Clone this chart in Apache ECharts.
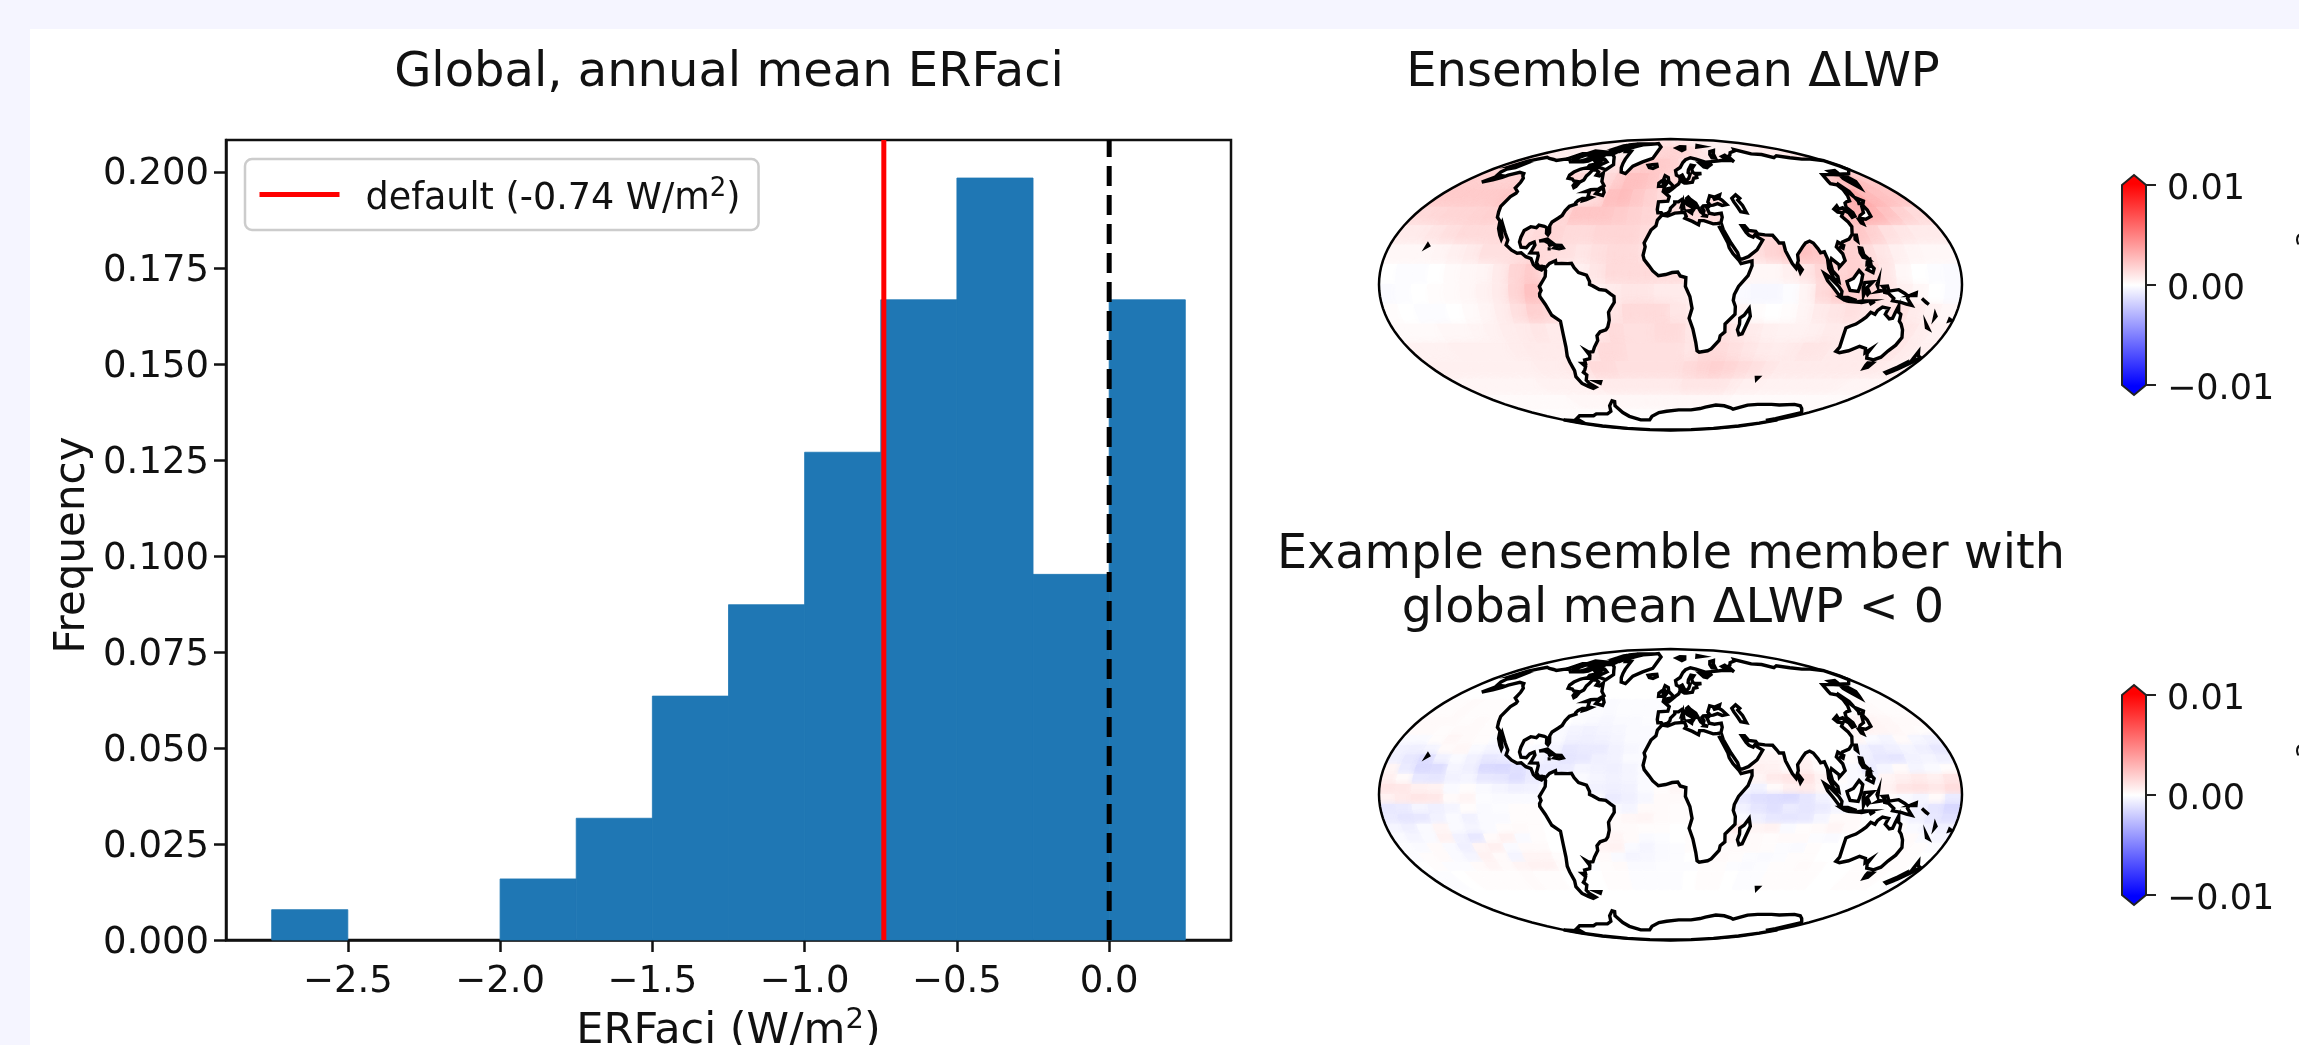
<!DOCTYPE html>
<html><head><meta charset="utf-8">
<script src="https://cdn.jsdelivr.net/npm/echarts@6/dist/echarts.min.js"></script>
<style>
html,body{margin:0;padding:0;width:2299px;height:1045px;overflow:hidden;background:#f5f5ff}
#panel{position:absolute;left:30px;top:29px;width:2269px;height:1016px;background:#fff}
#c{position:absolute;left:0;top:0;width:2299px;height:1045px}
</style></head><body><div id="panel"></div><div id="c"></div>
<script>
// ---------- histogram ----------
const binEdges = [-2.75,-2.5,-2.25,-2,-1.75,-1.5,-1.25,-1,-0.75,-0.5,-0.25,0,0.25];
const binFreq = [0.0079,0,0,0.0159,0.0317,0.0635,0.0873,0.127,0.1667,0.1984,0.0952,0.1667];
const xTicks = [-2.5,-2,-1.5,-1,-0.5,0];
const yTicks = [0,0.025,0.05,0.075,0.1,0.125,0.15,0.175,0.2];
const defaultERF = -0.74;
const cbTicks = [-0.01,0,0.01];
// ---------- coastlines (lon, lat) ----------
const americas = [[-168,65.5],[-166,68.5],[-162,70],[-156.5,71.3],[-150,70.5],[-141,69.7],[-135,69],[-128,70],[-122,69.8],[-115,68],[-108,68],[-100,68],[-96,68.5],[-94,71.5],[-92,69.5],[-88,68.5],[-85,69.5],[-81.5,69],[-82,66.5],[-87,65.5],[-86,64],[-91,63],[-94,61],[-94.5,59],[-92.5,57],[-88,56.5],[-85,55.3],[-82,55],[-82,52.5],[-80,51.3],[-79,52],[-79,54.5],[-77,56],[-78,58.5],[-77.5,60],[-78,62.3],[-74,62.3],[-70,61],[-69.5,59],[-66,58.5],[-64.5,60.3],[-62,57.5],[-60,55],[-56,52.5],[-59,50.3],[-65,50],[-68,49],[-65,49],[-64.5,47.5],[-64,46],[-61,45.5],[-64,44.3],[-66,43.8],[-66,45],[-67.5,45],[-70,43.7],[-70.8,42.5],[-70,41.7],[-74,40.5],[-75.5,38],[-76,35.5],[-78,34],[-81,32],[-81.5,30],[-80,26.5],[-80.5,25.2],[-81.8,26],[-83,29],[-85,29.7],[-89,30.3],[-90,29],[-94,29.5],[-97.3,27.5],[-97.7,24],[-97.5,21.5],[-95.5,18.8],[-92,18.6],[-90.5,20.5],[-88,21.5],[-87,20],[-88,17.5],[-88.8,15.9],[-84,15.8],[-83.3,14.5],[-83.7,11],[-82,9],[-80,9.2],[-77.5,8.6],[-75.5,10.6],[-72,12],[-71.5,10.5],[-68,10.6],[-64,10.5],[-61.8,10.7],[-60,8.5],[-57,6],[-52,4.7],[-50,1.5],[-50,0],[-48,-0.7],[-44,-2.5],[-40,-2.9],[-37,-4.8],[-35,-6],[-35,-9],[-37.5,-12],[-39,-14],[-39,-18],[-40.5,-21.5],[-42,-23],[-46,-24],[-48.5,-26],[-48.7,-28.5],[-52,-32],[-54,-34.5],[-57,-34.8],[-58.4,-34],[-57,-36.5],[-58,-38.3],[-62,-39],[-62.5,-41],[-65,-41],[-63.5,-42.7],[-65.3,-44.5],[-67.5,-46],[-66,-47.5],[-69,-50.5],[-68.3,-52.5],[-65.2,-54.8],[-68,-55.5],[-71,-54.3],[-74.5,-52.5],[-75.5,-48.5],[-73.5,-45],[-73.5,-40],[-73.3,-37],[-71.5,-32],[-70.5,-25],[-70.2,-18.5],[-75,-15.5],[-78,-10],[-81,-6],[-81,-4.5],[-80,-3],[-81,-1],[-79.5,1],[-77.5,4],[-77.5,7],[-78.5,8.5],[-80,7.3],[-83,8.3],[-85.5,10],[-87.5,13],[-91,14],[-94.5,16],[-97,15.8],[-101,17.3],[-105.5,20],[-105.5,22.5],[-109,26],[-112.5,29.5],[-114.7,31.5],[-114,29],[-110,24],[-110,23],[-112,25],[-115,28.5],[-117,32.5],[-120.5,34.5],[-122.5,37.5],[-124.3,40.5],[-124,46],[-122.5,48],[-123,49],[-128,51],[-130,54.5],[-133,57],[-137,58.5],[-140,60],[-146,60.8],[-150,59.7],[-152,59],[-153.5,57.5],[-158,56],[-164,54.6],[-160,58],[-158,58.7],[-162,59],[-165,61],[-166,63],[-161,64],[-161,66]];
const afroEurasia = [[-9.5,38.7],[-9,43],[-2,43.4],[-1,46],[-4.7,48.3],[-1.5,48.8],[1.5,50.5],[4,52],[7,53.5],[8.5,55.5],[8.5,57],[10.5,57.5],[10,55],[12,54],[14,54],[19,54.5],[21,57],[24,57.5],[24,59.3],[29.5,60],[23,60],[21.5,61],[21.5,63],[25,65.3],[22,65.7],[18,62.5],[17,60.7],[18.5,59.5],[16.5,57],[14,55.5],[12.7,56],[11,59],[8,58],[5.5,59],[5,62],[10,64],[14,67.5],[18,69.5],[25,71],[31,70],[41,67.5],[40,66],[35,66.5],[33,66.7],[35,64.5],[38,64],[40,64.7],[44,66],[44,68],[54,68.5],[60,69],[68,69],[67,72],[73,73],[73,68],[75,72],[80,73],[87,75],[100,76.5],[105,77.7],[113,74],[125,73.5],[130,71],[140,72.5],[150,71],[160,70],[170,70],[180,69],[180,65],[178,64.5],[179,62.5],[170,60],[164,59.8],[162,57.5],[162,55],[158,52],[156.7,51],[155.7,55],[156,57],[161,60.5],[163,62],[156,61.5],[155,59.3],[150,59.5],[143,59.3],[138,55],[137,53.7],[141,53],[140.5,50],[138,46.5],[135,43.5],[132,43],[130,42.3],[128,40],[129.5,37],[129,35.2],[126.5,34.5],[126.5,37],[125,38],[125,39.7],[121.5,39],[122,40.8],[118,39],[119,37.3],[122.5,37],[119.5,35],[121.5,32],[122,29.5],[119.5,25.5],[116,23],[111,21.5],[110,20.3],[108,21.5],[106,19],[108.8,15.5],[109.3,12],[105,8.7],[105,10],[101,13],[99.8,11],[100.5,7],[103.5,4],[104,1.4],[101,3],[98.3,8],[98.5,13],[97.5,16.5],[95,16],[94,18],[92,21],[90,22],[87,21],[85,19.5],[80.2,15],[80,12],[78,8.2],[76,10.5],[73,17],[72.8,21],[70,21],[69,22.5],[67,25],[62,25.2],[57.5,25.7],[56.5,27],[52,27.5],[50,30],[48,30],[50,26.5],[51.5,25],[54,24],[56.3,26],[56.5,24.3],[59.8,22.5],[55,17.5],[49,14],[45,12.8],[43.3,12.8],[42.5,16],[39,21],[35.2,28],[34.9,29.5],[34.2,27.8],[33,29],[32.5,30],[33.5,28],[35.5,24],[37,21],[37.5,18.5],[39.5,15.5],[43,12],[44,10.5],[51,11.9],[50.8,9.5],[48,4.5],[42,-1],[39.5,-5],[39,-8],[40.5,-11],[40.7,-15],[35,-20],[35.5,-24],[32.8,-26],[32.5,-28.5],[28,-33],[25.7,-34],[20,-34.8],[18.4,-34],[17,-29.5],[14.5,-22.5],[11.8,-17],[13.5,-12],[12,-6],[9.2,-1],[9.5,3.5],[6,4.3],[4.5,6.3],[1,6],[-3,5],[-7.5,4.4],[-11,6.8],[-13.5,9.5],[-16.5,12.5],[-17.3,14.7],[-16.2,19],[-17,21],[-13,27.7],[-9.8,30],[-9,33],[-6,35.7],[-2,35.2],[3,36.8],[10,37.2],[11,35],[10,34],[15,32.3],[19,30.5],[20,32.7],[23,32.7],[29,31],[32,31.2],[34.3,31.5],[36,34.5],[36,36.8],[31,36.2],[27.5,36.7],[26.5,39.5],[29,41],[31.5,41.2],[35,42],[38,41],[41.5,41.5],[39,44],[37,45],[38.5,47],[35,46],[36,45],[33.5,44.5],[33,46],[30.5,46.5],[28,43],[29,41.3],[26,40.8],[24,40.7],[23,40],[24,38],[23,36.5],[21.5,37.5],[19.5,41],[18.8,42.3],[15,44.5],[13.7,45.7],[12.4,45],[12.5,44],[16,41.8],[18.5,40],[16.8,40.3],[17,39],[16,38],[15.8,40],[12.5,41.5],[10.3,43.5],[8.8,44.4],[6,43],[3.2,43],[3.2,41.9],[0,39.5],[-0.5,38],[-2,36.8],[-5.5,36],[-6.5,37],[-9,37]];
const australia = [[113.5,-22],[114,-26],[115.7,-32],[115,-34.3],[118,-35],[123.5,-34],[129,-31.6],[134,-32.7],[136,-35],[138,-33],[138,-35.5],[140.5,-38],[144,-38.5],[146.5,-39],[150,-37.5],[151,-34],[153,-31],[153.5,-27],[150.8,-23],[148,-20],[146,-18.5],[145.3,-15],[143.5,-14],[142.5,-10.8],[141.5,-14],[141,-17],[139,-17.3],[135.5,-15],[136.5,-12],[132.5,-11.3],[130,-13],[129,-15],[126,-14],[124,-16.5],[122,-18],[119,-20],[116,-21]];
const antarctica = [[-180,-78],[-160,-79],[-150,-77],[-130,-74.5],[-110,-74.5],[-100,-73],[-85,-73],[-75,-71],[-68,-67],[-60,-63.5],[-58,-64],[-62,-67],[-62,-72],[-60,-75],[-50,-78],[-35,-78],[-27,-75],[-15,-72],[-5,-71],[10,-70],[25,-70],[35,-69],[40,-68],[50,-66.5],[60,-67],[70,-68.5],[75,-69.5],[85,-66.5],[95,-66],[110,-66],[120,-66.5],[135,-66],[145,-67],[155,-69],[165,-71],[170,-72],[168,-77],[165,-78.5],[180,-78],[180,-81],[180,-84],[180,-87],[180,-89],[180,-90],[-180,-90],[-180,-89],[-180,-87],[-180,-84],[-180,-81]];
const islands = [
 [[-73,78.2],[-68,76],[-60,76],[-55,70],[-53,67],[-51,64],[-48,61],[-43,60],[-40,65],[-32,68],[-22,70.5],[-20,75],[-18,80],[-30,83.5],[-45,82.5],[-60,82],[-66,80.5]],
 [[-62,66],[-65,62.5],[-72,63.8],[-78,64.5],[-73,68],[-80,70],[-88,71],[-89,73.5],[-80,73.7],[-72,71.5],[-67,69]],
 [[-90,76.5],[-78,76],[-75,79],[-65,81.5],[-62,83],[-75,83],[-90,82],[-88,79]],
 [[-117,70],[-105,68.5],[-101,70],[-105,73],[-115,73.3]],
 [[-125,72],[-118,72],[-118,74.3],[-124,74.2]],
 [[-92,74.6],[-80,74.7],[-80,75.6],[-92,76.7]],
 [[-117,75],[-106,75],[-106,76],[-117,76.5]],
 [[-95,79],[-87,79],[-91,81.5],[-95,81]],
 [[-87,63.5],[-80,63.7],[-83,65.5]],
 [[-100,72],[-93,71.8],[-92,74],[-98,74]],
 [[-59,47.7],[-53,46.7],[-53,48.5],[-56,51.5],[-58,49.5]],
 [[-85,22],[-80,23],[-75,20.5],[-77.5,19.9],[-78.5,21],[-82,22.3]],
 [[-74.3,18.5],[-71,18],[-68.5,18.5],[-70,19.8],[-73,19.9]],
 [[-78.3,18],[-76.3,18],[-77,18.5]],
 [[-156,19],[-155,19.6],[-155.8,20.2]],
 [[-24,65.5],[-22,64],[-18,63.4],[-14,64.7],[-15,66.2],[-20,66]],
 [[-5.5,50],[1.3,51.2],[1.7,52.7],[-1.5,55],[-2,57.5],[-5,58.6],[-6,56.5],[-3,54],[-5,52]],
 [[-10,52],[-6.3,52.2],[-6,54],[-8,55.2],[-10,54]],
 [[11,79],[18,76.8],[24,78],[27,80],[18,80.3]],
 [[52,71],[56,70.7],[60,74],[68,76.8],[60,76],[54,73.5]],
 [[50,80],[60,80.5],[55,81.3]],
 [[47,45],[51,47],[53,45],[51,44],[53,41],[54,37],[50,37.5],[49,40],[47.5,43]],
 [[8.3,39],[9.7,39.2],[9.5,41],[8.3,40.8]],
 [[8.6,41.5],[9.5,42],[9.4,43],[8.7,42.5]],
 [[12.5,38],[15.5,38.2],[15,36.7]],
 [[23.5,35.3],[26.3,35],[26,35.4],[24,35.6]],
 [[80,9.7],[81.8,7.5],[80.5,6],[79.8,8]],
 [[130.9,34],[135,33.5],[140,35],[141.5,38.5],[141.5,41],[140,40.5],[137,37],[133,35.5]],
 [[130,33.5],[131.8,33.5],[131,31],[130,31.5]],
 [[140,42],[143,42],[145.5,43.5],[142,45.5],[141.5,43.5]],
 [[142,46],[143.5,49],[143,54],[142,53.5],[142,49]],
 [[120,23],[121,22],[122,25],[121,25]],
 [[108.7,19],[110,18.3],[111,19.7],[110,20]],
 [[120,16],[120.5,18.5],[122,18.3],[122,15],[124,13],[121,13.7]],
 [[122,7.5],[125.5,6],[126.5,8],[125,9.5],[123,8.5]],
 [[122.5,10],[125,10.5],[125,12.5],[123,11.5]],
 [[109,1.5],[113,3],[117,7],[119,5],[117.8,1],[116,-3.5],[111,-3],[109.5,0]],
 [[95.3,5.5],[98,4],[104,-1],[106,-3.5],[105.8,-5.8],[104,-5],[100.5,-1.5],[97,2]],
 [[105.3,-6.5],[110,-6.5],[114.5,-7.7],[114,-8.6],[108,-7.8]],
 [[119.5,-5.5],[120.5,-3],[122,-5],[123,-4],[121.5,-1.5],[125,1.3],[120,1],[119,-2]],
 [[131,-1],[134,-0.8],[135,-3.3],[141,-2.6],[145,-4.5],[147.5,-6],[147,-7],[150.5,-10.5],[147,-9.8],[143.5,-9],[138,-8.2],[138.5,-7],[135,-4.5],[132.5,-4],[132.5,-2.5]],
 [[124,-10],[127,-8.4],[125,-9.5]],
 [[116,-8.8],[119,-8.3],[123,-8.3],[119,-9]],
 [[127.5,0],[128.5,2],[128,-1]],
 [[129,-3],[130.5,-3.2],[128,-3.5]],
 [[148,-5.5],[152,-4.2],[152,-5.5]],
 [[156,-7],[161,-10],[159,-9]],
 [[167,-15],[168,-16],[167.5,-17]],
 [[164,-20],[167,-22.3],[165.5,-21.8]],
 [[177.5,-17.5],[178.6,-18],[177.6,-18.3]],
 [[172.7,-34.5],[175.5,-36.7],[178.5,-37.7],[176.8,-40],[175,-41.6],[174.8,-39.5],[174,-38]],
 [[172.7,-40.5],[174.2,-41.7],[171,-45],[168.5,-46.6],[166.5,-46],[170.5,-43]],
 [[144.7,-40.7],[148.3,-40.8],[148,-43],[146,-43.6],[145,-42]],
 [[-61,-51.5],[-58,-51.5],[-59,-52.3]],
 [[69,-49],[70.5,-49],[70,-50]],
 [[49.3,-12],[50.5,-16],[47,-25],[45,-25.5],[43.5,-23],[44.3,-20],[44,-17],[46.5,-15.5]]
];
// ---------- LWP difference fields, units of 1e-4 kg/m2 ; columns start at lon -180, 10 deg wide ----------
const meanLatEdges = [90,80,70,60,50,40,30,20,10,0,-10,-20,-30,-40,-50,-60,-70,-80,-90];
const meanField = [
[4,4,4,4,4,5,5,5,5,5,5,5,6,8,8,10,10,10,10,10,10,8,8,6,6,5,5,5,5,5,5,5,5,5,5,4],
[8,8,7,7,6,6,6,6,6,6,6,6,6,8,8,10,14,15,16,16,16,14,12,10,8,6,6,6,6,6,6,6,6,6,8,8],
[14,14,12,10,8,8,8,8,8,8,8,8,10,14,16,18,20,20,18,14,10,8,8,8,8,8,8,8,8,8,8,10,14,16,16,15],
[18,18,18,17,17,18,18,20,18,16,14,14,14,18,24,24,22,18,15,12,12,10,10,10,10,10,10,10,10,10,10,14,18,24,24,20],
[20,20,20,20,20,22,20,20,18,12,10,10,12,24,26,22,18,14,14,14,14,12,10,10,10,10,10,10,12,14,22,30,34,28,24,22],
[14,15,16,16,17,18,16,12,10,10,14,22,22,22,20,18,16,14,12,14,14,14,8,8,8,8,8,8,10,18,24,30,30,24,18,14],
[8,8,10,12,14,14,14,14,12,14,16,14,14,16,16,16,14,10,8,8,10,10,10,14,16,12,10,10,14,18,22,18,12,10,8,8],
[3,3,3,4,6,8,12,12,12,14,14,12,10,12,14,14,12,8,5,5,6,8,8,12,16,20,24,22,20,18,14,10,6,4,3,3],
[0,-1,-1,0,2,3,4,8,16,20,10,6,6,10,14,14,14,14,14,12,8,6,4,3,3,6,10,16,16,18,16,10,3,0,-1,-2],
[-2,-1,0,1,2,3,5,8,16,24,20,6,6,6,8,10,10,8,8,6,4,0,-2,-3,-3,-1,4,14,20,20,16,10,6,3,0,-2],
[1,0,-1,-1,0,2,4,7,12,18,16,8,8,7,10,14,14,14,10,8,8,6,4,1,0,1,4,8,10,12,10,10,12,8,5,3],
[2,2,2,3,3,4,5,7,8,10,8,8,8,10,14,12,12,14,14,10,10,12,10,8,6,5,5,6,8,8,8,8,10,10,7,5],
[5,5,5,6,6,6,6,7,8,8,8,8,8,14,14,12,12,12,12,10,14,14,12,10,8,7,8,10,10,8,8,8,10,10,8,6],
[6,6,6,6,6,6,6,6,7,7,8,10,14,14,12,12,12,12,12,14,16,18,16,14,12,10,8,8,8,8,8,8,8,8,7,6],
[4,4,4,4,4,4,4,5,5,5,5,6,8,8,8,8,8,8,8,10,10,10,10,8,6,6,5,5,5,5,5,5,5,4,4,4],
[2,2,2,2,2,2,2,2,3,3,3,3,3,3,3,3,3,3,3,3,3,3,3,3,2,2,2,2,2,2,2,2,2,2,2,2],
[1,1,1,1,1,1,1,1,1,1,1,1,1,1,1,1,1,1,1,1,1,1,1,1,1,1,1,1,1,1,1,1,1,1,1,1],
[0,0,0,0,0,0,0,0,0,0,0,0,0,0,0,0,0,0,0,0,0,0,0,0,0,0,0,0,0,0,0,0,0,0,0,0]];
const memberLatEdges = [50,40,35,30,25,20,15,10,5,0,-5,-10,-15,-20,-25,-30,-35,-40,-50];
const memberField = [
[1,1,2,1,1,1,1,0,0,0,0,-1,-1,-2,-1,-1,-1,-1,0,0,0,0,0,0,0,0,0,0,0,0,1,1,2,2,1,1],
[2,2,2,1,2,1,1,1,0,0,0,-1,-2,-3,-2,-2,-1,-1,0,0,0,0,0,0,0,0,0,0,0,1,2,4,4,3,2,2],
[2,2,1,2,2,1,1,1,0,0,-2,-4,-5,-4,-3,-2,-2,-1,0,0,0,0,0,0,0,0,0,0,1,2,4,5,4,3,2,1],
[-2,-2,1,3,2,1,-1,-1,1,0,-2,-5,-6,-5,-4,-2,-2,-1,0,0,0,0,0,0,0,0,0,0,-1,2,3,-2,-4,2,-3,-5],
[-5,-6,-4,2,3,-2,-4,-3,-1,-2,-4,-9,-8,-8,-5,-3,-2,-1,0,0,0,0,0,1,2,2,1,2,2,0,-5,-8,-6,-4,-6,-9],
[-6,-9,-13,-5,-2,-5,-9,-8,-5,-4,-6,-10,-9,-6,-5,-2,-2,-1,0,0,0,1,3,4,4,3,5,2,2,1,-6,-9,-10,-5,-4,-6],
[4,-8,-14,-13,-4,-6,-14,-15,-12,-8,-8,-8,-4,-5,-6,-4,-2,-1,0,0,0,2,4,6,5,2,6,2,0,-2,-8,-4,2,-4,-2,1],
[6,2,-9,-10,-5,-4,-9,-10,-13,-8,-6,-5,-2,-4,-5,-4,-2,-1,1,1,0,-1,1,4,8,10,11,5,1,-2,-4,4,6,8,6,10],
[10,9,6,5,-2,1,-2,-4,-6,-5,0,0,-2,-5,-6,-5,-2,1,3,2,0,-2,-4,-5,2,6,8,4,-1,-2,1,5,10,11,9,13],
[5,8,10,9,2,4,-1,-2,-2,-2,0,0,0,-2,-8,-6,-3,2,2,1,-1,-4,-9,-12,-13,-14,-10,-5,-2,-1,0,1,-2,-4,2,-8],
[-9,-8,-4,-6,-4,1,-2,-1,1,1,0,0,0,1,-2,-4,2,2,1,1,-1,-4,-5,-10,-12,-8,-10,-8,-4,-1,0,0,-2,-6,-10,-15],
[-8,-10,-9,-5,-2,-5,-2,-2,1,1,0,0,0,2,2,3,4,2,1,1,0,2,-2,-6,-9,-10,-9,-4,2,2,0,0,-2,-5,-9,-12],
[-4,-6,-2,4,-2,-4,-2,1,2,1,0,0,0,4,2,2,1,1,0,0,4,6,9,4,5,-2,1,2,4,2,0,0,1,-2,-5,-6],
[-2,-4,-2,5,-5,-9,2,5,-2,1,0,0,0,2,4,2,-2,-1,0,1,2,4,4,2,1,2,2,-1,-2,0,0,0,1,2,-2,-4],
[-1,-2,2,-2,-6,4,6,-2,2,2,0,0,0,4,5,-2,-4,-2,-1,1,2,1,2,2,1,-1,-2,1,0,0,0,0,1,2,1,-1],
[-1,1,2,-2,-4,5,2,-4,4,4,1,0,0,2,-2,-4,-3,-2,-1,0,1,2,1,-1,-2,-1,1,1,0,0,0,1,2,1,1,0],
[0,1,-1,-1,2,4,2,4,5,5,2,0,-1,1,2,-2,-2,-1,-1,-1,1,1,-1,-2,-1,1,1,2,1,0,0,1,1,1,1,0],
[-1,-1,0,1,1,1,1,2,1,1,0,0,0,1,1,-1,-1,-1,-1,0,1,1,0,-1,-1,1,1,1,1,0,0,1,1,1,0,-1]];

// ---------- Mollweide ----------
const D = Math.PI/180;
function theta(phi){
  if (Math.abs(Math.abs(phi)-Math.PI/2)<1e-9) return phi;
  let t=phi; for(let i=0;i<40;i++){const f=(2*t+Math.sin(2*t)-Math.PI*Math.sin(phi))/(2+2*Math.cos(2*t)); t-=f; if(Math.abs(f)<1e-9)break;}
  return t;
}
const mollweide = {
  project(p){const t=theta(p[1]*D);return [2*Math.SQRT2/Math.PI*p[0]*D*Math.cos(t),-Math.SQRT2*Math.sin(t)];},
  unproject(q){const t=Math.asin(Math.max(-1,Math.min(1,-q[1]/Math.SQRT2)));
    return [Math.PI*q[0]/(2*Math.SQRT2*Math.cos(t))/D,Math.asin((2*t+Math.sin(2*t))/Math.PI)/D];}
};
const ring=r=>r.concat([r[0]]);
const outlineRing=[];
for(let la=-90;la<=90;la+=3)outlineRing.push([180,la]);
for(let la=90;la>=-90;la-=3)outlineRing.push([-180,la]);
const land=[americas,afroEurasia,australia,antarctica].concat(islands).map(r=>[ring(r)]);
echarts.registerMap('world',{type:'FeatureCollection',features:[
 {type:'Feature',properties:{name:'outline'},geometry:{type:'Polygon',coordinates:[outlineRing]}},
 {type:'Feature',properties:{name:'land'},geometry:{type:'MultiPolygon',coordinates:land}}
]});
function bwr(v){
  const u=Math.max(-1,Math.min(1,v/100));
  const c=Math.round(255*(1-Math.abs(u)));
  return u>=0?`rgb(255,${c},${c})`:`rgb(${c},${c},255)`;
}
function cells(edges,field){
  const out=[];
  field.forEach((row,j)=>row.forEach((v,i)=>{out.push([-180+10*i,edges[j+1],-170+10*i,edges[j],v]);}));
  return out;
}
function cellSeries(geoIndex,edges,field,blur){
  return {type:'custom',coordinateSystem:'geo',geoIndex,z:2,silent:true,
    data:cells(edges,field),dimensions:['lon0','lat0','lon1','lat1','v'],
    renderItem(params,api){
      const a=api.value(0),b=api.value(1),c=api.value(2),d=api.value(3),v=api.value(4);
      const pts=[];
      const n=Math.ceil((d-b)/4);
      for(let k=0;k<=n;k++)pts.push(api.coord([a,b+(d-b)*k/n]));
      for(let k=n;k>=0;k--)pts.push(api.coord([c,b+(d-b)*k/n]));
      const clip=[];
      for(let la=-90;la<=90;la+=3)clip.push(api.coord([180,la]));
      for(let la=90;la>=-90;la-=3)clip.push(api.coord([-180,la]));
      const col=bwr(v);
      return {type:'polygon',shape:{points:pts},clipPath:{type:'polygon',shape:{points:clip}},
        style:{fill:col,stroke:col,lineWidth:1,shadowBlur:blur,shadowColor:col}};
    }};
}
function geoOpt(top){
  return {map:'world',projection:mollweide,left:1379,top,width:583,height:291,z:5,silent:true,roam:false,
    itemStyle:{areaColor:'#fff',borderColor:'#000',borderWidth:3.4},
    emphasis:{disabled:true},select:{disabled:true},label:{show:false},
    regions:[{name:'outline',itemStyle:{areaColor:'rgba(0,0,0,0)',borderColor:'#000',borderWidth:2.5}}]};
}
const FONT='DejaVu Sans';
const fmtMinus=(v,d)=>{const s=Math.abs(v).toFixed(d);return v<0?'\u2212'+s:s;};
function cbGrid(top){return {left:2122,top,width:24,height:200,show:false,outerBoundsMode:'none'};}
function cbX(i){return {type:'value',gridIndex:i,min:0,max:1,show:false};}
function cbY(i){return {type:'value',gridIndex:i,min:-0.01,max:0.01,interval:0.01,position:'right',
  axisLine:{show:false,onZero:false},splitLine:{show:false},
  axisTick:{show:true,inside:false,length:10,lineStyle:{color:'#222',width:2}},
  axisLabel:{show:true,margin:21,color:'#111',fontFamily:FONT,fontSize:35,verticalAlign:'top',lineHeight:10,formatter:v=>fmtMinus(v,2)}};}
const cbShape=[[0,0.01],[0.5,0.011],[1,0.01],[1,-0.01],[0.5,-0.011],[0,-0.01]];
function cbSeries(i){
  return {type:'custom',xAxisIndex:i,yAxisIndex:i,silent:true,z:3,clip:false,
    data:cbShape,
    renderItem(params,api){
      if(params.dataIndex!==0)return {type:'group',children:[]};
      const pts=cbShape.map(p=>api.coord(p));
      return {type:'polygon',shape:{points:pts},style:{stroke:'#222',lineWidth:2,
        fill:new echarts.graphic.LinearGradient(0,0,0,1,[
          {offset:0,color:'#f00'},{offset:0.045,color:'#f00'},{offset:0.5,color:'#fff'},
          {offset:0.955,color:'#00f'},{offset:1,color:'#00f'}])}};
    }};
}
function vline(name,x,color,dash){
  return {type:'line',name,xAxisIndex:0,yAxisIndex:0,data:[[x,0],[x,0.2083]],showSymbol:false,symbol:'none',silent:true,z:4,
    lineStyle:{color,width:5,type:dash?[20,9]:'solid'},animation:false};
}
const legendName='default (-0.74 W/m\u00b2)';
const bins=binFreq.map((f,i)=>[binEdges[i],binEdges[i+1],f]);
const rich={p:{width:21,height:10},t:{fontFamily:FONT,fontSize:36.5,lineHeight:36,padding:[10,0,0,0],color:'#111'},s:{fontFamily:FONT,fontSize:26,lineHeight:28,verticalAlign:'top',color:'#111'}};
const nameRich={t:{fontFamily:FONT,fontSize:43,lineHeight:52,color:'#111'},s:{fontFamily:FONT,fontSize:29,lineHeight:30,verticalAlign:'top',color:'#111'}};
const chart=echarts.init(document.getElementById('c'),null,{renderer:'canvas'});
function clippedLabel(y){
  return {type:'text',x:2318,y,rotation:Math.PI/2,silent:true,
    style:{text:'{t|kg/m}{s|2}',rich:{t:{fontFamily:FONT,fontSize:36,lineHeight:46,fill:'#111',color:'#111'},s:{fontFamily:FONT,fontSize:25,lineHeight:28,verticalAlign:'top',fill:'#111',color:'#111'}},align:'center',verticalAlign:'middle'}};
}
const titleBase={color:'#111',fontFamily:FONT,fontWeight:'normal',fontSize:48};
chart.setOption({
  animation:false,
  title:[
    {text:'Global, annual mean ERFaci',left:724,top:45,textAlign:'center',textStyle:titleBase},
    {text:'Ensemble mean \u0394LWP',left:1668,top:45,textAlign:'center',textStyle:titleBase},
    {text:'Example ensemble member with',left:1666,top:527,textAlign:'center',textStyle:{...titleBase,fontSize:47.7}},
    {text:'global mean \u0394LWP < 0',left:1668,top:581,textAlign:'center',textStyle:{...titleBase,fontSize:47.7}}
  ],
  legend:{data:[legendName],left:245,top:159,orient:'horizontal',padding:[12,18,12,12],itemWidth:80,itemHeight:14,itemGap:10,
    backgroundColor:'rgba(255,255,255,0.8)',borderColor:'#ccc',borderWidth:2.5,borderRadius:7,selectedMode:false,
    lineStyle:{width:5,color:'#f00'},itemStyle:{opacity:0},
    formatter:()=>'{p|}{t|default (-0.74 W/m}{s|2}{t|)}',textStyle:{fontFamily:FONT,fontSize:37,color:'#111',rich}},
  grid:[{left:226,top:140,width:1005,height:800,show:true,borderColor:'#111',borderWidth:2.5,backgroundColor:'transparent',outerBoundsMode:'none'},cbGrid(185),cbGrid(695)],
  xAxis:[
    {type:'value',gridIndex:0,min:-2.9,max:0.4,name:'{t|ERFaci (W/m}{s|2}{t|)}',nameLocation:'middle',nameGap:64,
     nameTextStyle:{rich:nameRich},
     axisLine:{show:true,onZero:false,lineStyle:{color:'#111',width:2.5}},splitLine:{show:false},
     axisTick:{show:true,length:12,lineStyle:{color:'#111',width:2.5},customValues:xTicks},
     axisLabel:{color:'#111',fontFamily:FONT,fontSize:37,margin:24,customValues:xTicks,formatter:v=>fmtMinus(v,1)}},
    cbX(1),cbX(2)],
  yAxis:[
    {type:'value',gridIndex:0,min:0,max:0.2083,name:'Frequency',nameLocation:'middle',nameGap:132,nameRotate:90,
     nameTextStyle:{color:'#111',fontFamily:FONT,fontSize:42,padding:[0,10,0,0]},
     axisLine:{show:true,onZero:false,lineStyle:{color:'#111',width:2.5}},splitLine:{show:false},
     axisTick:{show:true,length:12,lineStyle:{color:'#111',width:2.5},customValues:yTicks},
     axisLabel:{color:'#111',fontFamily:FONT,fontSize:37,margin:17,verticalAlign:'top',lineHeight:6,customValues:yTicks,formatter:v=>v.toFixed(3)}},
    cbY(1),cbY(2)],
  geo:[geoOpt(139),geoOpt(649)],
  graphic:[clippedLabel(284),clippedLabel(795)],
  series:[
    {type:'custom',name:'hist',xAxisIndex:0,yAxisIndex:0,z:2,silent:true,data:bins,
     renderItem(params,api){
       const p0=api.coord([api.value(0),api.value(2)]),p1=api.coord([api.value(1),0]);
       return {type:'rect',shape:{x:p0[0],y:p0[1],width:p1[0]-p0[0],height:p1[1]-p0[1]},style:{fill:'#1f77b4',stroke:api.value(2)>0?'#1f77b4':null,lineWidth:0.8}};
     }},
    vline(legendName,defaultERF,'#f00',false),
    vline('zero',0,'#000',true),
    cellSeries(0,meanLatEdges,meanField,12),
    cellSeries(1,memberLatEdges,memberField,6),
    cbSeries(1),cbSeries(2)
  ]
});
</script></body></html>
